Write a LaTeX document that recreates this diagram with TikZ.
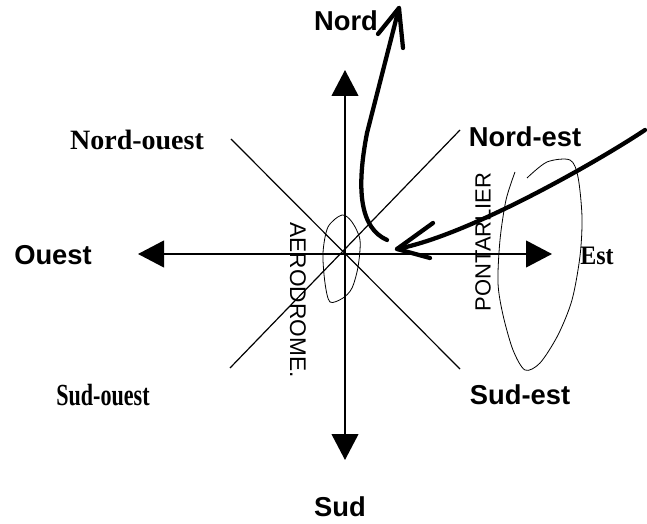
\documentclass[tikz,border=0pt]{standalone}
\usepackage{fontspec}
\setmainfont{Liberation Serif}
\newfontfamily\arialfont{Liberation Sans}
\usetikzlibrary{arrows.meta}
\begin{document}
\begin{tikzpicture}[x=0.75pt,y=-0.75pt,
    axe/.style={line width=1.6pt,-{Triangle[length=19.5pt,width=20pt]}},
    diag/.style={line width=0.9pt},
    gras/.style={font=\arialfont\bfseries\fontsize{20.5}{24}\selectfont},
    romain/.style={font=\bfseries\fontsize{21}{24}\selectfont},
    main/.style={line width=3.2pt,line cap=round,line join=round},
    trace/.style={line width=0.6pt},
    ecrit/.style={font=\arialfont\fontsize{17}{20}\selectfont}]
  \useasboundingbox (0,0) rectangle (647,524);
  \coordinate (o) at (345,254);
  \coordinate (n) at (345,70);
  \coordinate (s) at (345,460);
  \coordinate (w) at (138,254);
  \coordinate (e) at (552,254);
  \coordinate (nw) at (231,139);
  \coordinate (se) at (460,369);
  \coordinate (ne) at (460,130);
  \coordinate (sw) at (230,368);
  \draw[axe](o)--(n);
  \draw[axe](o)--(s);
  \draw[axe](o)--(w);
  \draw[axe](o)--(e);
  \draw[diag](nw)--(se);
  \draw[diag](ne)--(sw);
  \node[gras] (nord) at (346,21) {Nord};
  \node[gras] (nordest) at (525,137) {Nord-est};
  \node[romain] (nordouest) at (137,140) {Nord-ouest};
  \node[gras] (ouest) at (53,255) {Ouest};
  \node[romain,font=\bfseries\fontsize{20}{22}\selectfont,xscale=0.9] (est) at (597,256) {Est};
  \node[romain,font=\bfseries\fontsize{23}{26}\selectfont,xscale=0.72] (sudouest) at (103,395) {Sud-ouest};
  \node[gras] (sudest) at (520,395) {Sud-est};
  \node[gras] (sud) at (340,507) {Sud};
  \draw[trace] plot[smooth] coordinates {(515,172) (506,200) (500,240) (498,283) (503,315) (513,350) (525,370) (540,363) (558,335) (572,300) (580,256) (582,217) (578,177) (570,160) (547,162) (527,178)};
  \draw[trace] plot[smooth cycle] coordinates {(342,215) (328,227) (323,253) (325,283) (330,302) (343,298) (352,288) (358,267) (360,240) (352,222)};
  \node[ecrit,rotate=-90] (aero) at (298,300) {AERODROME.};
  \node[ecrit,rotate=90,font=\arialfont\fontsize{16.5}{20}\selectfont] (pont) at (483,242) {PONTARLIER};
  \coordinate (pn) at (399,8);
  \coordinate (pe) at (397,249);
  \draw[main] (387,240) .. controls (360,228) and (356,190) .. (367,133) -- (pn);
  \draw[main] (378,34) -- (pn) -- (403,48);
  \draw[main] (645,130) .. controls (600,160) and (470,235) .. (pe);
  \draw[main] (433,223) -- (pe) -- (430,258);
\end{tikzpicture}
\end{document}
